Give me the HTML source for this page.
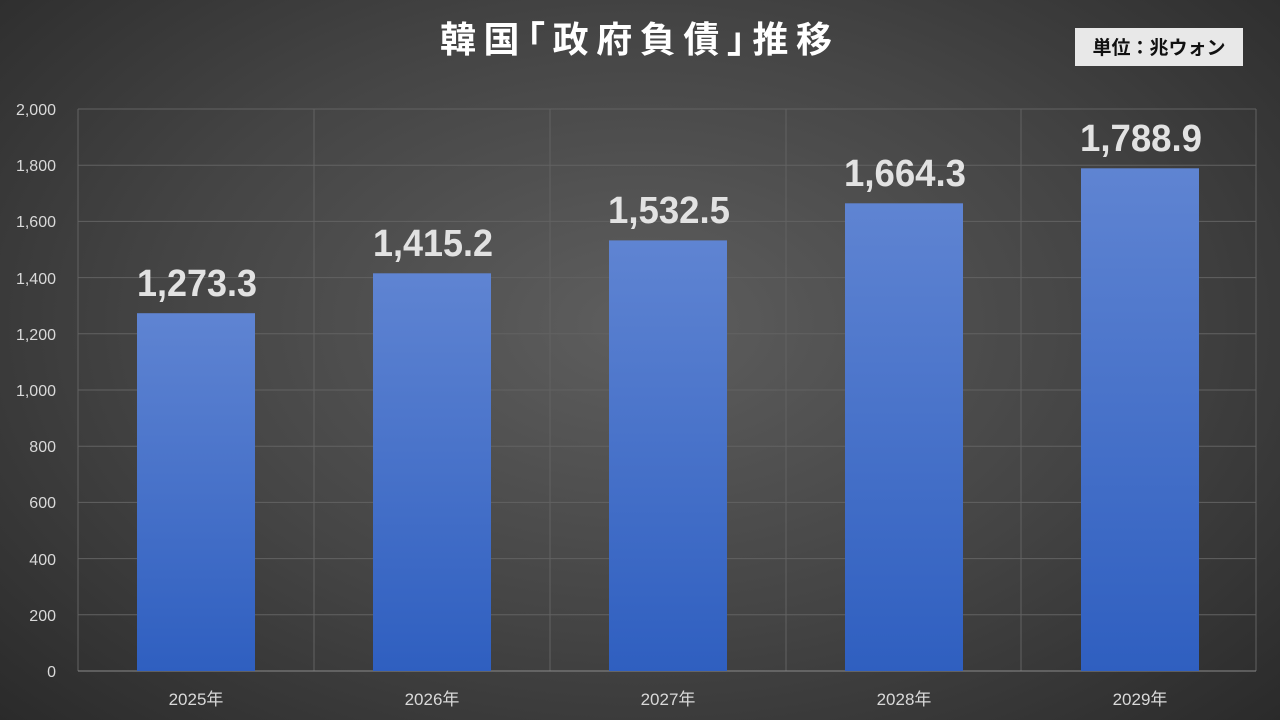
<!DOCTYPE html>
<html><head><meta charset="utf-8"><style>
html,body{margin:0;padding:0;}
body{width:1280px;height:720px;overflow:hidden;background:radial-gradient(ellipse 75% 85% at 50% 45%,#5e5e5e 0%,#444 50%,#262626 100%);font-family:"Liberation Sans","Noto Sans CJK JP",sans-serif;position:relative;}
</style></head><body>
<svg width="1280" height="720" style="position:absolute;left:0;top:0">
<defs><linearGradient id="g" x1="0" y1="0" x2="0" y2="1"><stop offset="0" stop-color="#5f84d2"/><stop offset="1" stop-color="#2f5fc0"/></linearGradient></defs>
<g stroke="#626262" stroke-width="1">
<line x1="78" y1="109" x2="1256" y2="109"/><line x1="78" y1="165.2" x2="1256" y2="165.2"/><line x1="78" y1="221.4" x2="1256" y2="221.4"/><line x1="78" y1="277.6" x2="1256" y2="277.6"/><line x1="78" y1="333.8" x2="1256" y2="333.8"/><line x1="78" y1="390" x2="1256" y2="390"/><line x1="78" y1="446.2" x2="1256" y2="446.2"/><line x1="78" y1="502.4" x2="1256" y2="502.4"/><line x1="78" y1="558.6" x2="1256" y2="558.6"/><line x1="78" y1="614.8" x2="1256" y2="614.8"/>
<line x1="78" y1="109" x2="78" y2="671"/><line x1="314" y1="109" x2="314" y2="671"/><line x1="550" y1="109" x2="550" y2="671"/><line x1="786" y1="109" x2="786" y2="671"/><line x1="1021" y1="109" x2="1021" y2="671"/><line x1="1256" y1="109" x2="1256" y2="671"/>
</g>
<line x1="78" y1="671" x2="1256" y2="671" stroke="#8a8a8a"/>
<g fill="url(#g)">
<rect x="137" y="313.2" width="118" height="357.8"/>
<rect x="373" y="273.3" width="118" height="397.7"/>
<rect x="609" y="240.4" width="118" height="430.6"/>
<rect x="845" y="203.3" width="118" height="467.7"/>
<rect x="1081" y="168.3" width="118" height="502.7"/>
</g>
<g fill="#d9d9d9" font-size="16" text-anchor="end" font-family="Liberation Sans, sans-serif">
<text x="56" y="115">2,000</text><text x="56" y="171">1,800</text><text x="56" y="227">1,600</text><text x="56" y="284">1,400</text><text x="56" y="340">1,200</text><text x="56" y="396">1,000</text><text x="56" y="452">800</text><text x="56" y="508">600</text><text x="56" y="565">400</text><text x="56" y="621">200</text><text x="56" y="677">0</text>
</g>
<g fill="#d9d9d9" font-size="17" text-anchor="middle" font-family="Liberation Sans, Noto Sans CJK JP, sans-serif">
<text x="196" y="705">2025年</text><text x="432" y="705">2026年</text><text x="668" y="705">2027年</text><text x="904" y="705">2028年</text><text x="1140" y="705">2029年</text>
</g>
<g fill="#e2e2e2" font-size="38" font-weight="bold" font-family="Liberation Sans Narrow, Liberation Sans, sans-serif" lengthAdjust="spacingAndGlyphs">
<text x="137" y="296" textLength="120" lengthAdjust="spacingAndGlyphs">1,273.3</text>
<text x="373" y="256" textLength="120" lengthAdjust="spacingAndGlyphs">1,415.2</text>
<text x="608" y="223" textLength="122" lengthAdjust="spacingAndGlyphs">1,532.5</text>
<text x="844" y="186" textLength="122" lengthAdjust="spacingAndGlyphs">1,664.3</text>
<text x="1080" y="151" textLength="122" lengthAdjust="spacingAndGlyphs">1,788.9</text>
</g>
<text x="440" y="52" textLength="392" fill="#fff" font-size="36" font-weight="bold" font-family="Liberation Sans, Noto Sans CJK JP, sans-serif">韓国｢政府負債｣推移</text>
<rect x="1075" y="28" width="168" height="38" fill="#e8e8e8"/>
<text x="1159" y="54" fill="#111" font-size="19" font-weight="bold" text-anchor="middle" font-family="Liberation Sans, Noto Sans CJK JP, sans-serif">単位：兆ウォン</text>
</svg>
</body></html>
